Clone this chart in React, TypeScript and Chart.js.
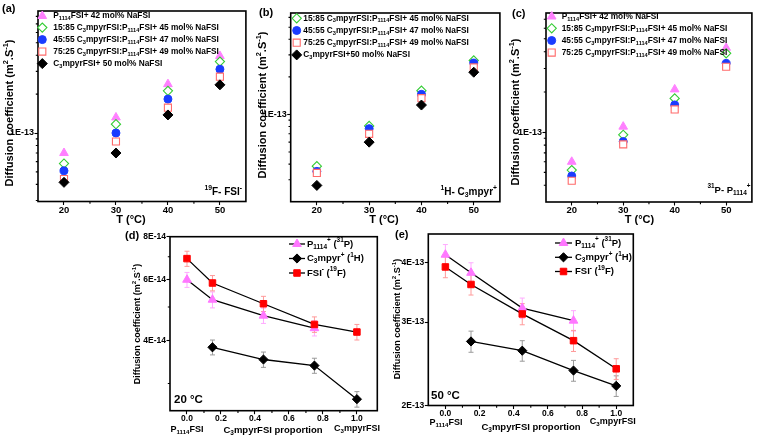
import React, { useEffect, useRef } from 'react';
import { Chart, registerables } from 'chart.js';

Chart.register(...registerables);

// ---------------- DATA ----------------
const temps = [20, 30, 40, 50];
const tempMajor = [20, 30, 40, 50];
const tempMinor = [25, 35, 45];

// (a) 19F - FSI-
const aP1114 = [7.0e-14, 1.32e-13, 2.39e-13, 3.95e-13];
const a1585 = [5.8e-14, 1.17e-13, 2.12e-13, 3.57e-13];
const a4555 = [5.1e-14, 1.0e-13, 1.83e-13, 3.12e-13];
const a7525 = [4.4e-14, 8.6e-14, 1.57e-13, 2.73e-13];
const aC3 = [4.15e-14, 7.0e-14, 1.38e-13, 2.36e-13];

// (b) 1H - C3mpyr+
const b1585 = [3.85e-14, 8.1e-14, 1.55e-13, 2.71e-13];
const b4555 = [3.5e-14, 7.7e-14, 1.45e-13, 2.58e-13];
const b7525 = [3.4e-14, 7.0e-14, 1.35e-13, 2.38e-13];
const bC3 = [2.7e-14, 6.0e-14, 1.19e-13, 2.18e-13];

// (c) 31P - P1114+
const cP1114 = [6.0e-14, 1.1e-13, 2.09e-13, 4.28e-13];
const c1585 = [5.2e-14, 9.55e-14, 1.79e-13, 3.89e-13];
const c4555 = [4.7e-14, 8.5e-14, 1.6e-13, 3.27e-13];
const c7525 = [4.33e-14, 8.1e-14, 1.48e-13, 3.09e-13];

// (d) 20 °C and (e) 50 °C vs C3mpyrFSI proportion
const propX = [0, 0.15, 0.45, 0.75, 1.0];
const propMajor = [0, 0.2, 0.4, 0.6, 0.8, 1.0];
const propMinor = [0.1, 0.3, 0.5, 0.7, 0.9];

const dP = [6.0e-14, 5.25e-14, 4.72e-14, 4.34e-14, null];
const dPerr = [3.0e-15, 2.8e-15, 2.4e-15, 2.2e-15, null];
const dC3 = [null, 3.82e-14, 3.52e-14, 3.38e-14, 2.7e-14];
const dC3err = [null, 1.9e-15, 1.8e-15, 1.7e-15, 1.4e-15];
const dFSI = [6.91e-14, 5.87e-14, 5.11e-14, 4.45e-14, 4.23e-14];
const dFSIerr = [3.5e-15, 3.0e-15, 2.6e-15, 2.3e-15, 2.2e-15];

const eP = [4.16e-13, 3.81e-13, 3.21e-13, 3.02e-13, null];
const ePerr = [2.1e-14, 1.9e-14, 1.6e-14, 1.5e-14, null];
const eC3 = [null, 2.73e-13, 2.61e-13, 2.37e-13, 2.2e-13];
const eC3err = [null, 1.4e-14, 1.3e-14, 1.2e-14, 1.1e-14];
const eFSI = [3.92e-13, 3.6e-13, 3.12e-13, 2.74e-13, 2.39e-13];
const eFSIerr = [2.0e-14, 1.8e-14, 1.6e-14, 1.4e-14, 1.2e-14];

// labels
const L_P = 'P_{1114}FSI+ 42 mol% NaFSI';
const L_1585 = '15:85 C_{3}mpyrFSI:P_{1114}FSI+ 45 mol% NaFSI';
const L_4555 = '45:55 C_{3}mpyrFSI:P_{1114}FSI+ 47 mol% NaFSI';
const L_7525 = '75:25 C_{3}mpyrFSI:P_{1114}FSI+ 49 mol% NaFSI';
const L_C3a = 'C_{3}mpyrFSI+ 50 mol% NaFSI';
const L_C3b = 'C_{3}mpyrFSI+50 mol% NaFSI';
const L_ionP = 'P_{1114}^{+} (^{31}P)';
const L_ionC = 'C_{3}mpyr^{+} (^{1}H)';
const L_ionF = 'FSI^{-} (^{19}F)';
const Y_TITLE = 'Diffusion coefficient (m^{2}.S^{-1})';

// ---------------- STYLE ----------------
const FONT = '"Liberation Sans", Arial, Helvetica, sans-serif';
const bf = (s: number) => `bold ${s}px ${FONT}`;

const ST = {
  P: { style: 'triangle', r: 5, fill: '#ff80ff', stroke: '#ff80ff', lw: 1 },
  G: { style: 'rectRot', r: 4.6, fill: '#ffffff', stroke: '#33cc33', lw: 1.1 },
  B: { style: 'circle', r: 4, fill: '#1a3cff', stroke: '#1a3cff', lw: 1 },
  R: { style: 'rect', r: 5, fill: '#ffffff', stroke: '#ff6b6b', lw: 1.1 },
  K: { style: 'rectRot', r: 5, fill: '#000000', stroke: '#000000', lw: 1 },
};
const ST2 = {
  P: { style: 'triangle', r: 5, fill: '#ff77ff', stroke: '#ff77ff', lw: 1, err: '#ffaaff' },
  K: { style: 'rectRot', r: 4.6, fill: '#000000', stroke: '#000000', lw: 1, err: '#9a9a9a' },
  F: { style: 'rect', r: 4.6, fill: '#ff0000', stroke: '#ff0000', lw: 1, err: '#ff9a9a' },
};

// ---------------- HELPERS ----------------
type Seg = { t: string; k: number };
function parseRich(s: string): Seg[] {
  const out: Seg[] = [];
  const re = /([_^])\{([^}]*)\}/g;
  let last = 0;
  let m: RegExpExecArray | null;
  while ((m = re.exec(s))) {
    if (m.index > last) out.push({ t: s.slice(last, m.index), k: 0 });
    out.push({ t: m[2], k: m[1] === '_' ? 1 : 2 });
    last = re.lastIndex;
  }
  if (last < s.length) out.push({ t: s.slice(last), k: 0 });
  return out;
}

function drawRich(ctx: CanvasRenderingContext2D, str: string, x: number, y: number, size: number, align: string, rot = false) {
  const segs = parseRich(str);
  const small = size * 0.68;
  let w = 0;
  const ws = segs.map((sg) => {
    ctx.font = bf(sg.k ? small : size);
    const mw = ctx.measureText(sg.t).width;
    w += mw;
    return mw;
  });
  ctx.save();
  ctx.translate(x, y);
  if (rot) ctx.rotate(-Math.PI / 2);
  let cx = align === 'left' ? 0 : align === 'center' ? -w / 2 : -w;
  ctx.fillStyle = '#000';
  ctx.textBaseline = 'middle';
  ctx.textAlign = 'left';
  segs.forEach((sg, i) => {
    ctx.font = bf(sg.k ? small : size);
    const dy = sg.k === 1 ? size * 0.3 : sg.k === 2 ? -size * 0.36 : 0;
    ctx.fillText(sg.t, cx, dy);
    cx += ws[i];
  });
  ctx.restore();
}

function drawMarker(ctx: CanvasRenderingContext2D, st: any, x: number, y: number) {
  const r = st.r;
  ctx.beginPath();
  if (st.style === 'triangle') {
    ctx.moveTo(x, y - r);
    ctx.lineTo(x + r * 0.866, y + r * 0.5);
    ctx.lineTo(x - r * 0.866, y + r * 0.5);
    ctx.closePath();
  } else if (st.style === 'rectRot') {
    ctx.moveTo(x - r, y);
    ctx.lineTo(x, y - r);
    ctx.lineTo(x + r, y);
    ctx.lineTo(x, y + r);
    ctx.closePath();
  } else if (st.style === 'rect') {
    const s = r * Math.SQRT1_2;
    ctx.rect(x - s, y - s, 2 * s, 2 * s);
  } else {
    ctx.arc(x, y, r, 0, Math.PI * 2);
  }
  ctx.fillStyle = st.fill;
  ctx.fill();
  ctx.strokeStyle = st.stroke;
  ctx.lineWidth = st.lw;
  ctx.stroke();
}

function logMinor(min: number, max: number, major: number[]) {
  const out: number[] = [];
  const k0 = Math.floor(Math.log10(min));
  const k1 = Math.ceil(Math.log10(max));
  for (let k = k0; k <= k1; k++) {
    for (let n = 1; n <= 9; n++) {
      const v = n * Math.pow(10, k);
      if (v > min * 1.0001 && v < max * 0.9999 && !major.some((m) => Math.abs(m - v) / v < 1e-6)) out.push(v);
    }
  }
  return out;
}

const fmtE = (v: number) => {
  const [m, e] = v.toExponential(0).split('e');
  return `${m}E${e.replace('+', '')}`;
};

// ---------------- PANEL SPECS ----------------
type Spec = any;

const series = (xs: number[], ys: (number | null)[], errs?: (number | null)[]) =>
  xs.map((x, i) => ({ x, y: ys[i], e: errs ? errs[i] : null })).filter((p) => p.y != null);

const topX = { min: 15, max: 55, major: tempMajor, minor: tempMinor, fmt: (v: number) => String(v), size: 9.5 };
const botX = (max: number) => ({ min: -0.1, max, major: propMajor, minor: propMinor, fmt: (v: number) => v.toFixed(1), size: 8.5 });

const specs: Spec[] = [
  {
    canvas: [0, 0, 252, 232],
    area: [38, 11, 247, 201.5],
    x: topX,
    y: { min: 2.95e-14, max: 8.8e-13, major: [1e-13], size: 9 },
    line: false,
    sets: [
      { label: L_P, data: series(temps, aP1114), st: ST.P },
      { label: L_1585, data: series(temps, a1585), st: ST.G },
      { label: L_4555, data: series(temps, a4555), st: ST.B },
      { label: L_7525, data: series(temps, a7525), st: ST.R },
      { label: L_C3a, data: series(temps, aC3), st: ST.K },
    ],
    legend: { mx: 42.3, tx: 53.3, ys: [16, 27.6, 39.6, 51.6, 63.6], size: 8.3 },
    texts: [
      { s: '(a)', x: 2, y: 9, size: 11, align: 'left' },
      { s: Y_TITLE, x: 10, y: 113, size: 11, align: 'center', rot: true },
      { s: 'T (°C)', x: 131, y: 220, size: 11, align: 'center' },
      { s: '^{19}F- FSI^{-}', x: 242, y: 192, size: 10, align: 'right' },
    ],
  },
  {
    canvas: [252, 0, 254, 232],
    area: [290.7, 13, 500.5, 201.7],
    x: topX,
    y: { min: 2e-14, max: 6.5e-13, major: [1e-13], size: 9 },
    line: false,
    sets: [
      { label: L_1585, data: series(temps, b1585), st: ST.G },
      { label: L_4555, data: series(temps, b4555), st: ST.B },
      { label: L_7525, data: series(temps, b7525), st: ST.R },
      { label: L_C3b, data: series(temps, bC3), st: ST.K },
    ],
    legend: { mx: 296.7, tx: 303.3, ys: [18.3, 30.5, 42.7, 54.9], size: 8.3 },
    texts: [
      { s: '(b)', x: 259, y: 13, size: 11, align: 'left' },
      { s: Y_TITLE, x: 263, y: 105, size: 11, align: 'center', rot: true },
      { s: 'T (°C)', x: 384, y: 220, size: 11, align: 'center' },
      { s: '^{1}H- C_{3}mpyr^{+}', x: 497, y: 192, size: 10, align: 'right' },
    ],
  },
  {
    canvas: [506, 0, 252, 232],
    area: [546, 13, 757, 202],
    x: topX,
    y: { min: 3e-14, max: 7.8e-13, major: [1e-13], size: 9 },
    line: false,
    sets: [
      { label: L_P, data: series(temps, cP1114), st: ST.P },
      { label: L_1585, data: series(temps, c1585), st: ST.G },
      { label: L_4555, data: series(temps, c4555), st: ST.B },
      { label: L_7525, data: series(temps, c7525), st: ST.R },
    ],
    legend: { mx: 551.7, tx: 561.7, ys: [16.5, 28.3, 40.5, 52.6], size: 8.3 },
    texts: [
      { s: '(c)', x: 512, y: 14, size: 11, align: 'left' },
      { s: Y_TITLE, x: 516, y: 112, size: 11, align: 'center', rot: true },
      { s: 'T (°C)', x: 639.5, y: 220, size: 11, align: 'center' },
      { s: '^{31}P- P_{1114}^{+}', x: 750.5, y: 190, size: 9.5, align: 'right' },
    ],
  },
  {
    canvas: [100, 228, 285, 211],
    area: [170, 236.7, 377.3, 410.7],
    x: botX(1.12),
    y: { min: 2.5e-14, max: 8e-14, major: [4e-14, 6e-14, 8e-14], size: 8.5 },
    line: true,
    sets: [
      { label: L_ionP, data: series(propX, dP, dPerr), st: ST2.P },
      { label: L_ionC, data: series(propX, dC3, dC3err), st: ST2.K },
      { label: L_ionF, data: series(propX, dFSI, dFSIerr), st: ST2.F },
    ],
    legend: { lx: [289, 305], mx: 297, tx: 307, ys: [244, 258.5, 273], size: 9.5 },
    texts: [
      { s: '(d)', x: 125, y: 236, size: 11, align: 'left' },
      { s: Y_TITLE, x: 138, y: 324, size: 9, align: 'center', rot: true },
      { s: 'C_{3}mpyrFSI proportion', x: 273, y: 430, size: 9.5, align: 'center' },
      { s: 'P_{1114}FSI', x: 187, y: 430, size: 9, align: 'center' },
      { s: 'C_{3}mpyrFSI', x: 357, y: 429, size: 9, align: 'center' },
      { s: '20 °C', x: 174, y: 400, size: 11.5, align: 'left' },
    ],
  },
  {
    canvas: [385, 228, 260, 211],
    area: [428.3, 233.3, 633.3, 405.5],
    x: botX(1.1),
    y: { min: 2e-13, max: 4.6e-13, major: [2e-13, 3e-13, 4e-13], size: 8.5 },
    line: true,
    sets: [
      { label: L_ionP, data: series(propX, eP, ePerr), st: ST2.P },
      { label: L_ionC, data: series(propX, eC3, eC3err), st: ST2.K },
      { label: L_ionF, data: series(propX, eFSI, eFSIerr), st: ST2.F },
    ],
    legend: { lx: [555, 572], mx: 563.5, tx: 575, ys: [243, 257.3, 271.5], size: 9.5 },
    texts: [
      { s: '(e)', x: 395, y: 235, size: 11, align: 'left' },
      { s: Y_TITLE, x: 398, y: 319, size: 9, align: 'center', rot: true },
      { s: 'C_{3}mpyrFSI proportion', x: 531, y: 427.7, size: 9.5, align: 'center' },
      { s: 'P_{1114}FSI', x: 446, y: 422.7, size: 9, align: 'center' },
      { s: 'C_{3}mpyrFSI', x: 612.7, y: 421.7, size: 9, align: 'center' },
      { s: '50 °C', x: 431, y: 396, size: 11.5, align: 'left' },
    ],
  },
];

// ---------------- CHART BUILD ----------------
function buildConfig(spec: Spec): any {
  const [cx, cy, cw, ch] = spec.canvas;
  const [L, T, R, B] = spec.area;
  const l = L - cx, t = T - cy, r = R - cx, b = B - cy;
  const n = spec.sets.length;
  const yMinor = logMinor(spec.y.min, spec.y.max, spec.y.major);

  const decor = {
    id: 'decor',
    beforeDatasetsDraw(chart: any) {
      const ctx = chart.ctx;
      const ys = chart.scales.y;
      chart.data.datasets.forEach((ds: any, di: number) => {
        const meta = chart.getDatasetMeta(di);
        ds.data.forEach((p: any, i: number) => {
          if (p.e == null) return;
          const el = meta.data[i];
          const x = el.x;
          const y1 = ys.getPixelForValue(p.y + p.e);
          const y2 = ys.getPixelForValue(p.y - p.e);
          ctx.save();
          ctx.strokeStyle = ds.errColor;
          ctx.lineWidth = 1;
          ctx.beginPath();
          ctx.moveTo(x, y1); ctx.lineTo(x, y2);
          ctx.moveTo(x - 2.5, y1); ctx.lineTo(x + 2.5, y1);
          ctx.moveTo(x - 2.5, y2); ctx.lineTo(x + 2.5, y2);
          ctx.stroke();
          ctx.restore();
        });
      });
    },
    afterDraw(chart: any) {
      const ctx = chart.ctx;
      const a = chart.chartArea;
      const xs = chart.scales.x;
      const ys = chart.scales.y;
      ctx.save();
      // minor ticks
      ctx.strokeStyle = '#000';
      ctx.lineWidth = 1.1;
      ctx.beginPath();
      spec.x.minor.forEach((v: number) => {
        const px = xs.getPixelForValue(v);
        ctx.moveTo(px, a.bottom); ctx.lineTo(px, a.bottom + 2.2);
      });
      yMinor.forEach((v: number) => {
        const py = ys.getPixelForValue(v);
        ctx.moveTo(a.left, py); ctx.lineTo(a.left - 2.2, py);
      });
      ctx.stroke();
      // frame
      ctx.lineWidth = 1.6;
      ctx.strokeRect(a.left, a.top, a.right - a.left, a.bottom - a.top);
      // legend
      const lg = spec.legend;
      chart.data.datasets.forEach((ds: any, i: number) => {
        const yy = lg.ys[i] - cy;
        if (lg.lx) {
          ctx.strokeStyle = '#000';
          ctx.lineWidth = 1.3;
          ctx.beginPath();
          ctx.moveTo(lg.lx[0] - cx, yy); ctx.lineTo(lg.lx[1] - cx, yy);
          ctx.stroke();
        }
        drawMarker(ctx, ds.st, lg.mx - cx, yy);
        drawRich(ctx, ds.label, lg.tx - cx, yy, lg.size, 'left');
      });
      // texts
      spec.texts.forEach((tx: any) => drawRich(ctx, tx.s, tx.x - cx, tx.y - cy, tx.size, tx.align, !!tx.rot));
      ctx.restore();
    },
  };

  const gridCfg = { display: true, drawOnChartArea: false, drawTicks: true, tickLength: 3.5, tickColor: '#000', tickWidth: 1.1 };

  return {
    type: 'scatter',
    data: {
      datasets: spec.sets.map((s: any, i: number) => ({
        label: s.label,
        data: s.data,
        st: s.st,
        errColor: s.st.err,
        order: n - i,
        showLine: spec.line,
        borderColor: '#000',
        borderWidth: 1.3,
        pointStyle: s.st.style,
        pointRadius: s.st.r,
        pointHoverRadius: s.st.r,
        pointBackgroundColor: s.st.fill,
        pointBorderColor: s.st.stroke,
        pointBorderWidth: s.st.lw,
      })),
    },
    options: {
      responsive: false,
      animation: false,
      devicePixelRatio: 1,
      events: [],
      layout: { padding: { left: 0, top: t, right: cw - r, bottom: 0 } },
      plugins: { legend: { display: false }, tooltip: { enabled: false } },
      scales: {
        x: {
          type: 'linear',
          min: spec.x.min,
          max: spec.x.max,
          afterBuildTicks: (s: any) => { s.ticks = spec.x.major.map((v: number) => ({ value: v })); },
          afterFit: (s: any) => { s.height = ch - b; },
          grid: gridCfg,
          border: { display: false },
          ticks: {
            autoSkip: false,
            maxRotation: 0,
            padding: 0.5,
            color: '#000',
            font: { family: FONT, weight: 'bold', size: spec.x.size, lineHeight: 1 },
            callback: (v: any) => spec.x.fmt(Number(v)),
          },
        },
        y: {
          type: 'logarithmic',
          min: spec.y.min,
          max: spec.y.max,
          afterBuildTicks: (s: any) => { s.ticks = spec.y.major.map((v: number) => ({ value: v })); },
          afterFit: (s: any) => { s.width = l; },
          grid: gridCfg,
          border: { display: false },
          ticks: {
            autoSkip: false,
            padding: 0.5,
            color: '#000',
            font: { family: FONT, weight: 'bold', size: spec.y.size, lineHeight: 1 },
            callback: (v: any) => fmtE(Number(v)),
          },
        },
      },
    },
    plugins: [decor],
  };
}

function Panel({ spec }: { spec: Spec }) {
  const ref = useRef<HTMLCanvasElement>(null);
  useEffect(() => {
    const chart = new Chart(ref.current as HTMLCanvasElement, buildConfig(spec));
    return () => chart.destroy();
  }, [spec]);
  const [cx, cy, cw, ch] = spec.canvas;
  return (
    <canvas
      ref={ref}
      width={cw}
      height={ch}
      style={{ position: 'absolute', left: cx, top: cy, width: cw, height: ch }}
    />
  );
}

export default function App() {
  return (
    <div style={{ position: 'fixed', left: 0, top: 0, width: 758, height: 439, background: '#fff', overflow: 'hidden' }}>
      {specs.map((s, i) => (
        <Panel key={i} spec={s} />
      ))}
    </div>
  );
}
